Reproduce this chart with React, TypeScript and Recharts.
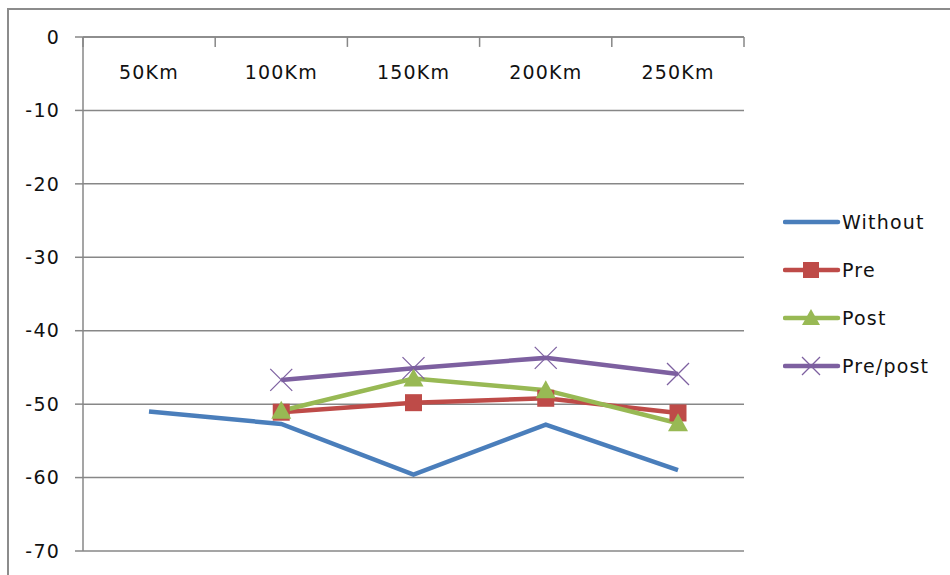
import React from "react";
import {
  LineChart,
  Line,
  XAxis,
  YAxis,
  CartesianGrid,
  ReferenceLine,
} from "recharts";

const categories = ["50Km", "100Km", "150Km", "200Km", "250Km"];
const without = [-51.0, -52.7, -59.6, -52.8, -59.0];
const pre = [null, -51.1, -49.8, -49.2, -51.2];
const post = [null, -50.9, -46.5, -48.1, -52.6];
const prePost = [null, -46.7, -45.1, -43.7, -45.9];
const yTicks = [0, -10, -20, -30, -40, -50, -60, -70];
const boundaries = [0, 1, 2, 3, 4, 5];

const data = categories.map((name, i) => ({
  name,
  slot: i + 0.5,
  Without: without[i],
  Pre: pre[i],
  Post: post[i],
  "Pre/post": prePost[i],
}));

const FONT = "'DejaVu Sans', Verdana, sans-serif";
const GRID = "#878787";
const COLORS = {
  Without: "#4a7ebb",
  Pre: "#be4b48",
  Post: "#98b954",
  "Pre/post": "#7d60a0",
};

const SquareDot = (props: any) => {
  const { cx, cy, value } = props;
  if (value == null || cx == null || cy == null) return null;
  return <rect x={cx - 8.5} y={cy - 8.5} width={17} height={17} fill={COLORS.Pre} />;
};

const TriangleDot = (props: any) => {
  const { cx, cy, value } = props;
  if (value == null || cx == null || cy == null) return null;
  return (
    <polygon
      points={`${cx},${cy - 10} ${cx + 10},${cy + 8} ${cx - 10},${cy + 8}`}
      fill={COLORS.Post}
    />
  );
};

const CrossDot = (props: any) => {
  const { cx, cy, value } = props;
  if (value == null || cx == null || cy == null) return null;
  return (
    <g stroke={COLORS["Pre/post"]} strokeWidth={1.3}>
      <line x1={cx - 11} y1={cy - 11} x2={cx + 11} y2={cy + 11} />
      <line x1={cx - 11} y1={cy + 11} x2={cx + 11} y2={cy - 11} />
    </g>
  );
};

const CategoryTick = (props: any) => {
  const { x, y, payload } = props;
  return (
    <text
      x={x}
      y={y + 35}
      textAnchor="middle"
      dominantBaseline="central"
      fontFamily={FONT}
      fontSize={19}
      letterSpacing={1.2}
      fill="#111"
    >
      {payload.value}
    </text>
  );
};

const legendItems = [
  { name: "Without", marker: "none" },
  { name: "Pre", marker: "square" },
  { name: "Post", marker: "triangle" },
  { name: "Pre/post", marker: "cross" },
];

const ChartLegend = () => (
  <div style={{ position: "absolute", left: 783, top: 198 }}>
    {legendItems.map((item) => {
      const c = (COLORS as any)[item.name];
      return (
        <div
          key={item.name}
          style={{ display: "flex", alignItems: "center", height: 48 }}
        >
          <svg width={58} height={24} style={{ display: "block" }}>
            <line x1={2} y1={12} x2={55} y2={12} stroke={c} strokeWidth={4.5} strokeLinecap="round" />
            {item.marker === "square" && <rect x={20} y={4} width={16} height={16} fill={c} />}
            {item.marker === "triangle" && (
              <polygon points="28,3 37,19 19,19" fill={c} />
            )}
            {item.marker === "cross" && (
              <g stroke={c} strokeWidth={1.3}>
                <line x1={19} y1={3} x2={37} y2={21} />
                <line x1={19} y1={21} x2={37} y2={3} />
              </g>
            )}
          </svg>
          <span
            style={{
              fontFamily: FONT,
              fontSize: 19,
              letterSpacing: 1.2,
              color: "#111",
              marginLeft: 1,
            }}
          >
            {item.name}
          </span>
        </div>
      );
    })}
  </div>
);

export default function App() {
  return (
    <div
      style={{
        position: "absolute",
        left: 0,
        top: 0,
        width: 950,
        height: 575,
        overflow: "hidden",
        background: "#fff",
      }}
    >
      <div
        style={{
          position: "absolute",
          left: 7,
          top: 8,
          width: 980,
          height: 600,
          border: "2px solid #8c8c8c",
        }}
      />
      <LineChart
        width={950}
        height={575}
        data={data}
        margin={{ top: 36, right: 206, bottom: 24, left: 23 }}
        style={{ position: "absolute", left: 0, top: 0 }}
      >
        <CartesianGrid vertical={false} stroke={GRID} strokeWidth={1.5} />
        <XAxis
          xAxisId="cat"
          dataKey="name"
          orientation="top"
          height={1}
          padding={{ left: 66, right: 66 }}
          axisLine={{ stroke: GRID, strokeWidth: 1.5 }}
          tickLine={false}
          tickSize={0}
          tickMargin={0}
          tick={<CategoryTick />}
          interval={0}
        />
        <XAxis
          xAxisId="bounds"
          dataKey="slot"
          type="number"
          domain={[0, 5]}
          allowDataOverflow
          ticks={boundaries}
          hide
        />
        <YAxis
          domain={[-70, 0]}
          ticks={yTicks}
          width={60}
          tickSize={8}
          tickMargin={15}
          interval={0}
          axisLine={{ stroke: GRID, strokeWidth: 1.5 }}
          tickLine={{ stroke: GRID, strokeWidth: 1.5 }}
          tick={{ fill: "#111", fontFamily: FONT, fontSize: 19, letterSpacing: 1.2 }}
        />
        {boundaries.map((b) => (
          <ReferenceLine
            key={b}
            xAxisId="bounds"
            segment={[
              { x: b, y: 0 },
              { x: b, y: -1.35 },
            ]}
            stroke={GRID}
            strokeWidth={1.5}
            ifOverflow="visible"
          />
        ))}
        <Line
          xAxisId="cat"
          dataKey="Without"
          stroke={COLORS.Without}
          strokeWidth={4.5}
          dot={false}
          isAnimationActive={false}
        />
        <Line
          xAxisId="cat"
          dataKey="Pre"
          stroke={COLORS.Pre}
          strokeWidth={4.5}
          dot={<SquareDot />}
          isAnimationActive={false}
        />
        <Line
          xAxisId="cat"
          dataKey="Post"
          stroke={COLORS.Post}
          strokeWidth={4.5}
          dot={<TriangleDot />}
          isAnimationActive={false}
        />
        <Line
          xAxisId="cat"
          dataKey="Pre/post"
          stroke={COLORS["Pre/post"]}
          strokeWidth={4.5}
          dot={<CrossDot />}
          isAnimationActive={false}
        />
      </LineChart>
      <ChartLegend />
    </div>
  );
}
